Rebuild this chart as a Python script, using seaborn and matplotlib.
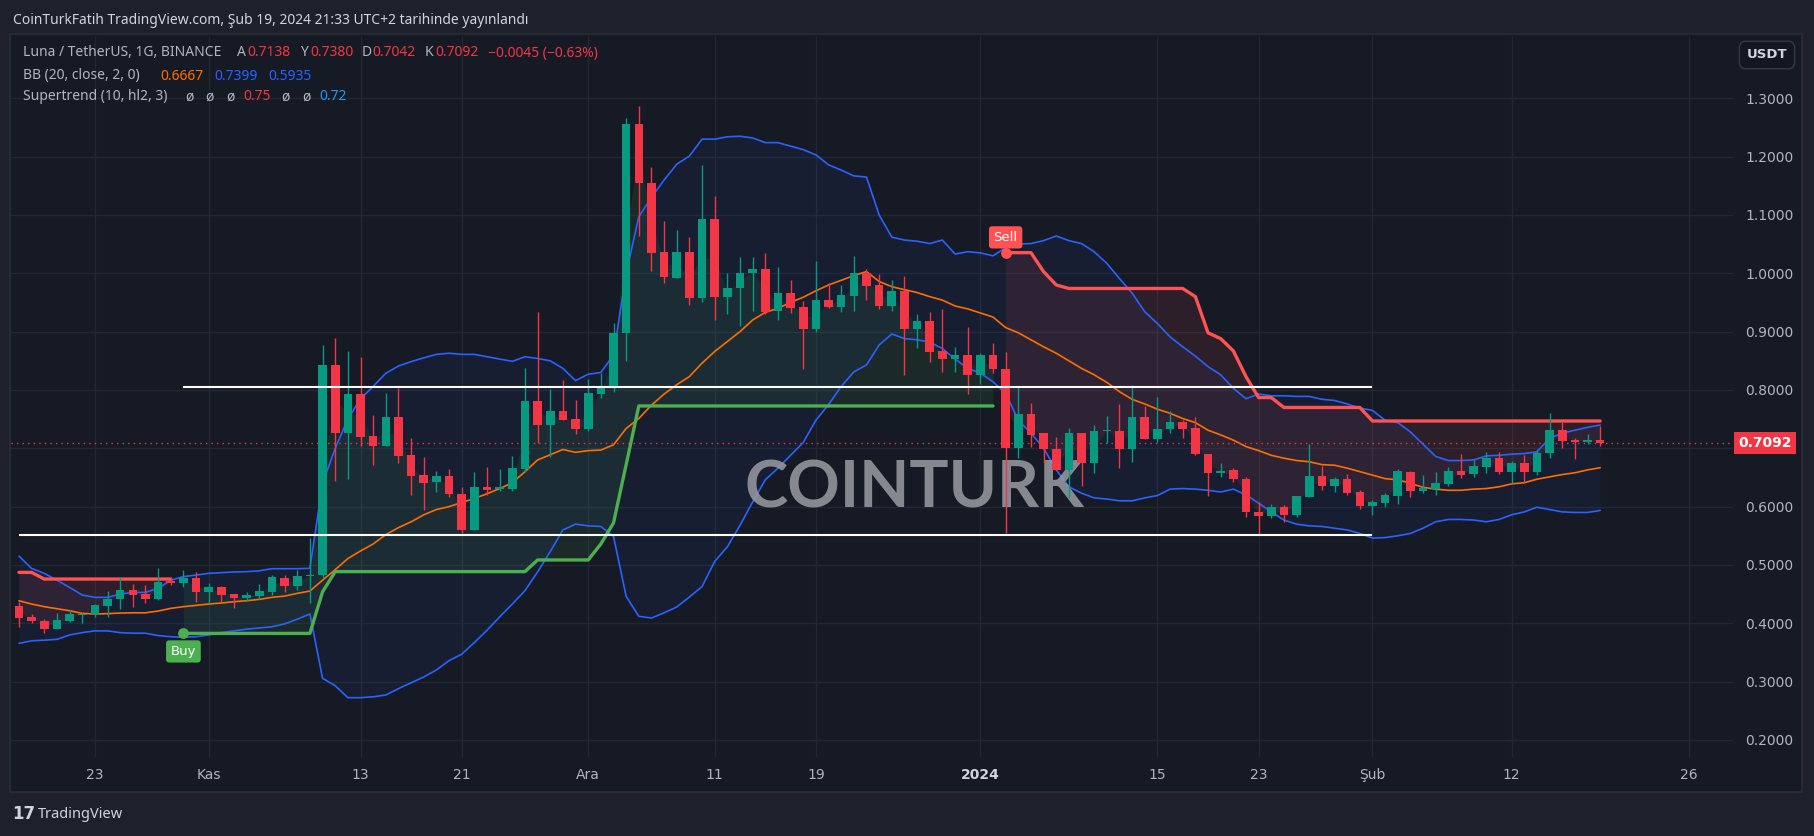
import numpy as np
import pandas as pd
import matplotlib
matplotlib.use("Agg")
import matplotlib.pyplot as plt
import matplotlib.dates as mdates
from matplotlib.patches import Rectangle
import seaborn as sns

# ---- data (LUNA/USDT daily, 17 Oct 2023 - 19 Feb 2024) ----
dates = pd.date_range("2023-10-17", "2024-02-19", freq="D")

opens = [
    0.4296, 0.4113, 0.4045, 0.3902, 0.4039, 0.4148, 0.4165, 0.4302, 0.4410, 0.4570,
    0.4496, 0.4410, 0.4725, 0.4696, 0.4776, 0.4542, 0.4622, 0.4502, 0.4439, 0.4467,
    0.4542, 0.4776, 0.4639, 0.4810, 0.4822, 0.8430, 0.7257, 0.7930, 0.7210, 0.7046,
    0.7537, 0.6886, 0.6540, 0.6430, 0.6526, 0.6217, 0.5600, 0.6340, 0.6310, 0.6300,
    0.6646, 0.7817, 0.7400, 0.7640, 0.7500, 0.7330, 0.7930, 0.8057, 0.8970, 1.2560,
    1.1540, 1.0360, 0.9926, 1.0360, 0.9583, 1.0930, 0.9600, 0.9754, 1.0000, 1.0074,
    0.9360, 0.9663, 0.9423, 0.9050, 0.9543, 0.9429, 0.9617, 1.0006, 0.9800, 0.9446,
    0.9697, 0.9040, 0.9189, 0.8670, 0.8526, 0.8600, 0.8257, 0.8600, 0.8354, 0.7000,
    0.7588, 0.7257, 0.6983, 0.6628, 0.7257, 0.6754, 0.7297, 0.7297, 0.6983, 0.7531,
    0.7154, 0.7326, 0.7446, 0.7340, 0.6897, 0.6583, 0.6628, 0.6474, 0.5914, 0.5846,
    0.5988, 0.5857, 0.6171, 0.6526, 0.6360, 0.6474, 0.6246, 0.6017, 0.6068, 0.6188,
    0.6590, 0.6274, 0.6300, 0.6394, 0.6610, 0.6554, 0.6685, 0.6828, 0.6600, 0.6742,
    0.6600, 0.6914, 0.7314, 0.7140, 0.7114, 0.7138]
highs = [
    0.4370, 0.4153, 0.4070, 0.4170, 0.4222, 0.4182, 0.4330, 0.4553, 0.4787, 0.4673,
    0.4656, 0.4940, 0.4787, 0.4913, 0.4879, 0.4696, 0.4640, 0.4510, 0.4530, 0.4673,
    0.4827, 0.4827, 0.4913, 0.5456, 0.8770, 0.8886, 0.8670, 0.8560, 0.7570, 0.7954,
    0.8034, 0.7170, 0.6857, 0.6610, 0.6646, 0.6340, 0.6600, 0.6686, 0.6646, 0.6874,
    0.8380, 0.9330, 0.8010, 0.8170, 0.7830, 0.8190, 0.8286, 0.9150, 1.2657, 1.2870,
    1.1817, 1.0897, 1.0743, 1.0630, 1.1857, 1.1326, 1.0012, 1.0286, 1.0286, 1.0343,
    1.0114, 0.9886, 0.9526, 1.0210, 0.9830, 0.9800, 1.0297, 1.0070, 0.9989, 0.9880,
    0.9954, 0.9300, 0.9340, 0.9394, 0.8730, 0.9080, 0.8630, 0.8810, 0.8657, 0.8046,
    0.7783, 0.7257, 0.7188, 0.7340, 0.7257, 0.7400, 0.7554, 0.7760, 0.8086, 0.7726,
    0.7874, 0.7646, 0.7486, 0.7540, 0.6897, 0.6743, 0.6670, 0.6500, 0.6086, 0.6046,
    0.6028, 0.6183, 0.7074, 0.6697, 0.6510, 0.6560, 0.6280, 0.6114, 0.6230, 0.6639,
    0.6617, 0.6540, 0.6594, 0.6674, 0.6900, 0.6800, 0.6940, 0.6940, 0.6790, 0.6885,
    0.6980, 0.7610, 0.7456, 0.7170, 0.7240, 0.7380]
lows = [
    0.3940, 0.4010, 0.3839, 0.3896, 0.4027, 0.4010, 0.4102, 0.4113, 0.4250, 0.4273,
    0.4342, 0.4400, 0.4656, 0.4627, 0.4370, 0.4342, 0.4370, 0.4267, 0.4387, 0.4422,
    0.4485, 0.4536, 0.4570, 0.4342, 0.4780, 0.6446, 0.6480, 0.7040, 0.6714, 0.7046,
    0.6754, 0.6200, 0.5940, 0.6257, 0.6170, 0.5554, 0.5600, 0.6200, 0.6274, 0.6269,
    0.6590, 0.7086, 0.6857, 0.7486, 0.7246, 0.7297, 0.7870, 0.7970, 0.8500, 1.0646,
    1.0046, 0.9830, 0.9926, 0.9457, 0.9503, 0.9200, 0.9297, 0.9100, 0.9360, 0.9310,
    0.9200, 0.9314, 0.8366, 0.9000, 0.9400, 0.9330, 0.9360, 0.9543, 0.9390, 0.9360,
    0.8257, 0.8714, 0.8486, 0.8314, 0.8314, 0.7930, 0.8110, 0.8290, 0.5554, 0.6828,
    0.7028, 0.6743, 0.6628, 0.6143, 0.6354, 0.6580, 0.7086, 0.6657, 0.6760, 0.7154,
    0.7110, 0.7257, 0.7170, 0.6886, 0.6183, 0.6500, 0.6428, 0.5817, 0.5514, 0.5800,
    0.5740, 0.5829, 0.6171, 0.6286, 0.6257, 0.6200, 0.5960, 0.5857, 0.5988, 0.6045,
    0.6171, 0.6230, 0.6200, 0.6354, 0.6490, 0.6514, 0.6580, 0.6560, 0.6410, 0.6400,
    0.6550, 0.6840, 0.7000, 0.6816, 0.7068, 0.7042]
closes = [
    0.4096, 0.4045, 0.3902, 0.4056, 0.4153, 0.4165, 0.4307, 0.4416, 0.4570, 0.4490,
    0.4410, 0.4713, 0.4696, 0.4776, 0.4542, 0.4622, 0.4490, 0.4439, 0.4485, 0.4553,
    0.4799, 0.4639, 0.4810, 0.4822, 0.8430, 0.7257, 0.7930, 0.7200, 0.7046, 0.7537,
    0.6874, 0.6531, 0.6410, 0.6526, 0.6210, 0.5600, 0.6340, 0.6286, 0.6330, 0.6669,
    0.7817, 0.7400, 0.7640, 0.7486, 0.7330, 0.7950, 0.8069, 0.8970, 1.2560, 1.1554,
    1.0354, 0.9943, 1.0360, 0.9583, 1.0930, 0.9600, 0.9743, 1.0006, 1.0074, 0.9343,
    0.9663, 0.9412, 0.9050, 0.9543, 0.9429, 0.9629, 1.0006, 0.9789, 0.9446, 0.9697,
    0.9040, 0.9189, 0.8657, 0.8526, 0.8600, 0.8257, 0.8600, 0.8354, 0.7000, 0.7588,
    0.7228, 0.6983, 0.6628, 0.7257, 0.6754, 0.7297, 0.7300, 0.6983, 0.7531, 0.7154,
    0.7326, 0.7446, 0.7330, 0.6897, 0.6583, 0.6617, 0.6468, 0.5914, 0.5846, 0.5988,
    0.5857, 0.6183, 0.6526, 0.6360, 0.6474, 0.6228, 0.6017, 0.6086, 0.6200, 0.6610,
    0.6274, 0.6325, 0.6400, 0.6610, 0.6548, 0.6697, 0.6828, 0.6600, 0.6742, 0.6600,
    0.6914, 0.7314, 0.7130, 0.7114, 0.7140, 0.7092]

# Bollinger bands (20, close, 2)
bb_upper = [
    0.5153, 0.4940, 0.4856, 0.4740, 0.4616, 0.4485, 0.4445, 0.4445, 0.4500, 0.4530,
    0.4530, 0.4600, 0.4740, 0.4800, 0.4827, 0.4856, 0.4868, 0.4880, 0.4885, 0.4900,
    0.4936, 0.4936, 0.4936, 0.4943, 0.6400, 0.7000, 0.7500, 0.7850, 0.8060, 0.8286,
    0.8410, 0.8486, 0.8550, 0.8610, 0.8630, 0.8610, 0.8610, 0.8570, 0.8530, 0.8490,
    0.8570, 0.8540, 0.8500, 0.8370, 0.8160, 0.8270, 0.8300, 0.8600, 1.0000, 1.0970,
    1.1300, 1.1600, 1.1870, 1.2010, 1.2300, 1.2300, 1.2340, 1.2350, 1.2320, 1.2240,
    1.2240, 1.2180, 1.2120, 1.2030, 1.1860, 1.1770, 1.1670, 1.1650, 1.1000, 1.0620,
    1.0570, 1.0550, 1.0510, 1.0570, 1.0330, 1.0370, 1.0350, 1.0300, 1.0440, 1.0500,
    1.0510, 1.0560, 1.0640, 1.0560, 1.0510, 1.0370, 1.0170, 0.9910, 0.9660, 0.9340,
    0.9140, 0.8910, 0.8740, 0.8580, 0.8400, 0.8260, 0.8030, 0.7850, 0.7930, 0.7900,
    0.7900, 0.7890, 0.7890, 0.7840, 0.7820, 0.7760, 0.7690, 0.7650, 0.7480, 0.7440,
    0.7280, 0.7070, 0.6860, 0.6790, 0.6790, 0.6800, 0.6870, 0.6880, 0.6900, 0.6910,
    0.6940, 0.7170, 0.7260, 0.7310, 0.7360, 0.7399]
bb_basis = [
    0.4387, 0.4330, 0.4285, 0.4250, 0.4216, 0.4170, 0.4160, 0.4165, 0.4176, 0.4180,
    0.4180, 0.4210, 0.4256, 0.4285, 0.4307, 0.4330, 0.4348, 0.4370, 0.4387, 0.4410,
    0.4445, 0.4467, 0.4513, 0.4553, 0.4740, 0.4920, 0.5110, 0.5240, 0.5360, 0.5520,
    0.5640, 0.5740, 0.5860, 0.5950, 0.6000, 0.6070, 0.6140, 0.6220, 0.6310, 0.6410,
    0.6600, 0.6800, 0.6890, 0.6980, 0.6930, 0.6960, 0.6970, 0.7060, 0.7340, 0.7510,
    0.7740, 0.7930, 0.8090, 0.8230, 0.8460, 0.8660, 0.8830, 0.9000, 0.9200, 0.9330,
    0.9400, 0.9500, 0.9590, 0.9700, 0.9800, 0.9880, 0.9960, 1.0030, 0.9860, 0.9770,
    0.9720, 0.9670, 0.9600, 0.9540, 0.9440, 0.9390, 0.9320, 0.9250, 0.9070, 0.8980,
    0.8860, 0.8740, 0.8630, 0.8500, 0.8370, 0.8260, 0.8130, 0.7970, 0.7840, 0.7760,
    0.7670, 0.7600, 0.7510, 0.7440, 0.7310, 0.7230, 0.7140, 0.7030, 0.6960, 0.6880,
    0.6830, 0.6790, 0.6770, 0.6720, 0.6710, 0.6660, 0.6600, 0.6540, 0.6480, 0.6460,
    0.6400, 0.6330, 0.6300, 0.6280, 0.6280, 0.6300, 0.6310, 0.6340, 0.6390, 0.6410,
    0.6470, 0.6510, 0.6550, 0.6580, 0.6630, 0.6667]
bb_lower = [
    0.3656, 0.3700, 0.3710, 0.3725, 0.3800, 0.3840, 0.3870, 0.3870, 0.3840, 0.3830,
    0.3830, 0.3790, 0.3770, 0.3760, 0.3770, 0.3800, 0.3840, 0.3870, 0.3900, 0.3920,
    0.3940, 0.3990, 0.4070, 0.4160, 0.3057, 0.2930, 0.2725, 0.2725, 0.2740, 0.2770,
    0.2880, 0.2980, 0.3080, 0.3200, 0.3360, 0.3470, 0.3670, 0.3880, 0.4110, 0.4330,
    0.4560, 0.4880, 0.5230, 0.5600, 0.5700, 0.5670, 0.5660, 0.5490, 0.4460, 0.4120,
    0.4090, 0.4180, 0.4280, 0.4450, 0.4630, 0.5060, 0.5310, 0.5680, 0.6080, 0.6460,
    0.6660, 0.6880, 0.7100, 0.7480, 0.7750, 0.8060, 0.8310, 0.8430, 0.8770, 0.8960,
    0.8880, 0.8860, 0.8820, 0.8710, 0.8530, 0.8370, 0.8290, 0.8140, 0.7940, 0.7480,
    0.7260, 0.7000, 0.6630, 0.6340, 0.6230, 0.6150, 0.6130, 0.6100, 0.6100, 0.6150,
    0.6190, 0.6300, 0.6310, 0.6300, 0.6280, 0.6250, 0.6300, 0.6200, 0.6060, 0.5910,
    0.5770, 0.5700, 0.5670, 0.5660, 0.5630, 0.5600, 0.5540, 0.5460, 0.5470, 0.5500,
    0.5540, 0.5630, 0.5740, 0.5780, 0.5780, 0.5770, 0.5740, 0.5780, 0.5860, 0.5910,
    0.5990, 0.5950, 0.5910, 0.5900, 0.5900, 0.5935]

# Supertrend (10, hl2, 3)
supertrend = [
    0.4873, 0.4873, 0.4759, 0.4759, 0.4759, 0.4759, 0.4759, 0.4759, 0.4759, 0.4759,
    0.4759, 0.4759, 0.4759, 0.3827, 0.3827, 0.3827, 0.3827, 0.3827, 0.3827, 0.3827,
    0.3827, 0.3827, 0.3827, 0.3827, 0.4540, 0.4886, 0.4886, 0.4886, 0.4886, 0.4886,
    0.4886, 0.4886, 0.4886, 0.4886, 0.4886, 0.4886, 0.4886, 0.4886, 0.4886, 0.4886,
    0.4886, 0.5086, 0.5086, 0.5086, 0.5086, 0.5086, 0.5360, 0.5720, 0.6720, 0.7726,
    0.7726, 0.7726, 0.7726, 0.7726, 0.7726, 0.7726, 0.7726, 0.7726, 0.7726, 0.7726,
    0.7726, 0.7726, 0.7726, 0.7726, 0.7726, 0.7726, 0.7726, 0.7726, 0.7726, 0.7726,
    0.7726, 0.7726, 0.7726, 0.7726, 0.7726, 0.7726, 0.7726, 0.7726, 1.0354, 1.0354,
    1.0354, 1.0029, 0.9800, 0.9740, 0.9740, 0.9740, 0.9740, 0.9740, 0.9740, 0.9740,
    0.9740, 0.9740, 0.9740, 0.9600, 0.8980, 0.8880, 0.8670, 0.8228, 0.7870, 0.7870,
    0.7700, 0.7700, 0.7700, 0.7700, 0.7700, 0.7700, 0.7700, 0.7468, 0.7468, 0.7468,
    0.7468, 0.7468, 0.7468, 0.7468, 0.7468, 0.7468, 0.7468, 0.7468, 0.7468, 0.7468,
    0.7468, 0.7468, 0.7468, 0.7468, 0.7468, 0.7468]
buy_date = "2023-10-30"
sell_date = "2024-01-03"

# drawn trend lines
resistance = 0.8046
support = 0.5514
resistance_span = ("2023-10-30", "2024-02-01")
support_span = ("2023-10-17", "2024-02-01")
last_price = 0.7092

tick_dates = ["2023-10-23", "2023-11-01", "2023-11-13", "2023-11-21", "2023-12-01",
              "2023-12-11", "2023-12-19", "2024-01-01", "2024-01-15", "2024-01-23",
              "2024-02-01", "2024-02-12", "2024-02-26"]
tick_labels = ["23", "Kas", "13", "21", "Ara", "11", "19", "2024", "15", "23",
               "Şub", "12", "26"]
price_ticks = [0.2, 0.3, 0.4, 0.5, 0.6, 0.7, 0.8, 0.9, 1.0, 1.1, 1.2, 1.3]
# 0.7000 sits under the last-price tag, so the reference shows no label there
price_labels = ["0.2000", "0.3000", "0.4000", "0.5000", "0.6000", "", "0.8000",
                "0.9000", "1.0000", "1.1000", "1.2000", "1.3000"]

# ---- colours ----
OUTER = "#1e212b"
PANEL = "#161a25"
GRID = "#232733"
TEXT = "#b2b5be"
UP = "#089981"
DOWN = "#f23645"
BLUE = "#2962ff"
ORANGE = "#ff6d00"
ST_UP = "#4caf50"
ST_DN = "#ff5252"

sns.set_theme(style="dark", rc={"axes.facecolor": PANEL, "figure.facecolor": OUTER,
                                "grid.color": GRID, "text.color": TEXT})
plt.rcParams["font.family"] = ["DejaVu Sans"]

df = pd.DataFrame({"date": dates, "open": opens, "high": highs, "low": lows,
                   "close": closes, "upper": bb_upper, "basis": bb_basis,
                   "lower": bb_lower, "st": supertrend})
df["x"] = mdates.date2num(df["date"])
df["mid"] = (df["open"] + df["close"]) / 2
df["trend"] = np.where((df["date"] >= buy_date) & (df["date"] < sell_date), 1, -1)
df["seg"] = (df["trend"] != df["trend"].shift()).cumsum()

W, H = 1814, 836
fx = lambda px: px / W
fy = lambda py: 1 - py / H

fig = plt.figure(figsize=(W / 100, H / 100), dpi=100)
fig.add_artist(Rectangle((fx(10), fy(792)), fx(1802) - fx(10), fy(34) - fy(792),
                         transform=fig.transFigure, facecolor=PANEL,
                         edgecolor="#2a2e39", lw=1.2, zorder=0))
ax = fig.add_axes([fx(11), fy(757), fx(1733) - fx(11), fy(36) - fy(757)])
ax.set_facecolor(PANEL)

# Bollinger bands
ax.fill_between(df["x"], df["lower"], df["upper"], color=BLUE, alpha=0.06, lw=0, zorder=1)
sns.lineplot(data=df, x="x", y="upper", color=BLUE, lw=1.2, ax=ax, zorder=2)
sns.lineplot(data=df, x="x", y="lower", color=BLUE, lw=1.2, ax=ax, zorder=2)
sns.lineplot(data=df, x="x", y="basis", color=ORANGE, lw=1.2, ax=ax, zorder=2)

# Supertrend
for _, seg in df.groupby("seg"):
    col = ST_UP if seg["trend"].iloc[0] == 1 else ST_DN
    ax.fill_between(seg["x"], seg["st"], seg["mid"], color=col, alpha=0.1, lw=0, zorder=1)
    sns.lineplot(data=seg, x="x", y="st", color=col, lw=2.4, ax=ax, zorder=2.5)

# candles
up = df["close"] >= df["open"]
ccol = np.where(up, UP, DOWN)
ax.vlines(df["x"], df["low"], df["high"], colors=ccol, lw=1.0, zorder=3)
body = np.maximum((df["close"] - df["open"]).abs(), 0.0018)
ax.bar(df["x"], body, bottom=np.minimum(df["open"], df["close"]), width=0.68,
       color=ccol, lw=0, zorder=4)

# horizontal trend lines
ax.hlines(resistance, mdates.datestr2num(resistance_span[0]),
          mdates.datestr2num(resistance_span[1]), color="white", lw=1.5, zorder=5)
ax.hlines(support, mdates.datestr2num(support_span[0]),
          mdates.datestr2num(support_span[1]), color="white", lw=1.5, zorder=5)
ax.axhline(last_price, color=DOWN, lw=1.0, ls=(0, (1, 3)), zorder=2)

# buy / sell signals
b = df[df["date"] == buy_date].iloc[0]
s = df[df["date"] == sell_date].iloc[0]
ax.scatter([b["x"]], [b["st"]], s=60, color=ST_UP, zorder=6, lw=0)
ax.scatter([s["x"]], [s["st"]], s=60, color=ST_DN, zorder=6, lw=0)
ax.annotate("Buy", (b["x"], b["st"]), xytext=(0, -13), textcoords="offset points",
            ha="center", va="center", color="white", fontsize=9.5, zorder=7,
            bbox=dict(boxstyle="round,pad=0.35,rounding_size=0.25", fc=ST_UP, ec="none"))
ax.annotate("Sell", (s["x"], s["st"]), xytext=(0, 11), textcoords="offset points",
            ha="center", va="center", color="white", fontsize=9.5, zorder=7,
            bbox=dict(boxstyle="round,pad=0.35,rounding_size=0.25", fc=ST_DN, ec="none"))

# watermark
ax.text(0.5244, 0.3717, "COINTURK", transform=ax.transAxes, ha="center", va="center",
        fontsize=47, fontweight="bold", color="#9a9ca3", alpha=0.85, zorder=2.2,
        family=["Lato", "DejaVu Sans"])

# axes
x0 = mdates.datestr2num("2023-10-23")
ax.set_xlim(x0 - 6.63, x0 + 129.5)
ax.set_ylim(0.1708, 1.4068)
ax.set_xticks(mdates.datestr2num(tick_dates))
ax.set_xticklabels(tick_labels)
ax.set_yticks(price_ticks)
ax.set_yticklabels(price_labels)
ax.yaxis.tick_right()
ax.tick_params(axis="x", length=0, pad=8, colors=TEXT, labelsize=10)
ax.tick_params(axis="y", length=0, pad=9, colors=TEXT, labelsize=10)
for lab in ax.get_xticklabels():
    if lab.get_text() == "2024":
        lab.set_fontweight("bold")
        lab.set_color("#d1d4dc")
ax.set_xlabel("")
ax.set_ylabel("")
ax.grid(True, color=GRID, lw=1)
for sp in ax.spines.values():
    sp.set_visible(False)

# last price tag on price scale
ax.text(1.003, last_price, "0.7092", transform=ax.get_yaxis_transform(), ha="left",
        va="center", color="white", fontsize=10, fontweight="bold", clip_on=False, zorder=8,
        bbox=dict(boxstyle="square,pad=0.3", fc=DOWN, ec="none"))

# header, legend and logo
fig.text(fx(13), fy(20), "CoinTurkFatih TradingView.com, Şub 19, 2024 21:33 UTC+2 tarihinde yayınlandı",
         ha="left", va="center", fontsize=10, fontweight="semibold", color="#d1d4dc",
         family=["Noto Sans", "DejaVu Sans"])
fig.text(fx(1767), fy(55), "USDT", ha="center", va="center", fontsize=9.5,
         fontweight="bold", color="#d1d4dc",
         bbox=dict(boxstyle="round,pad=0.55,rounding_size=0.5", fc="#131722", ec="#363a45"))

legend_rows = [
    (53, [(23, "Luna / TetherUS, 1G, BINANCE", TEXT), (237, "A", TEXT), (247, "0.7138", DOWN),
          (300, "Y", TEXT), (310, "0.7380", DOWN), (362, "D", TEXT), (372, "0.7042", DOWN),
          (425, "K", TEXT), (435, "0.7092", DOWN), (488, "−0.0045 (−0.63%)", DOWN)]),
    (76, [(23, "BB (20, close, 2, 0)", TEXT), (160, "0.6667", ORANGE), (214, "0.7399", BLUE),
          (268, "0.5935", BLUE)]),
    (97, [(23, "Supertrend (10, hl2, 3)", TEXT), (185, "ø", TEXT), (205, "ø", TEXT),
          (226, "ø", TEXT), (243, "0.75", DOWN), (281, "ø", TEXT), (302, "ø", TEXT),
          (319, "0.72", "#2196f3")]),
]
for y, pieces in legend_rows:
    for px, txt, col in pieces:
        fig.text(fx(px), fy(y), txt, ha="left", va="center", fontsize=10, color=col,
                 family=["Noto Sans", "DejaVu Sans"])

fig.text(fx(12), fy(814), "17", ha="left", va="center", fontsize=12, fontweight="heavy",
         color="#d1d4dc")
fig.text(fx(38), fy(814), "TradingView", ha="left", va="center", fontsize=10.5,
         color="#d1d4dc", family=["Noto Sans", "DejaVu Sans"])

fig.savefig("out.png", dpi=100, facecolor=OUTER)
